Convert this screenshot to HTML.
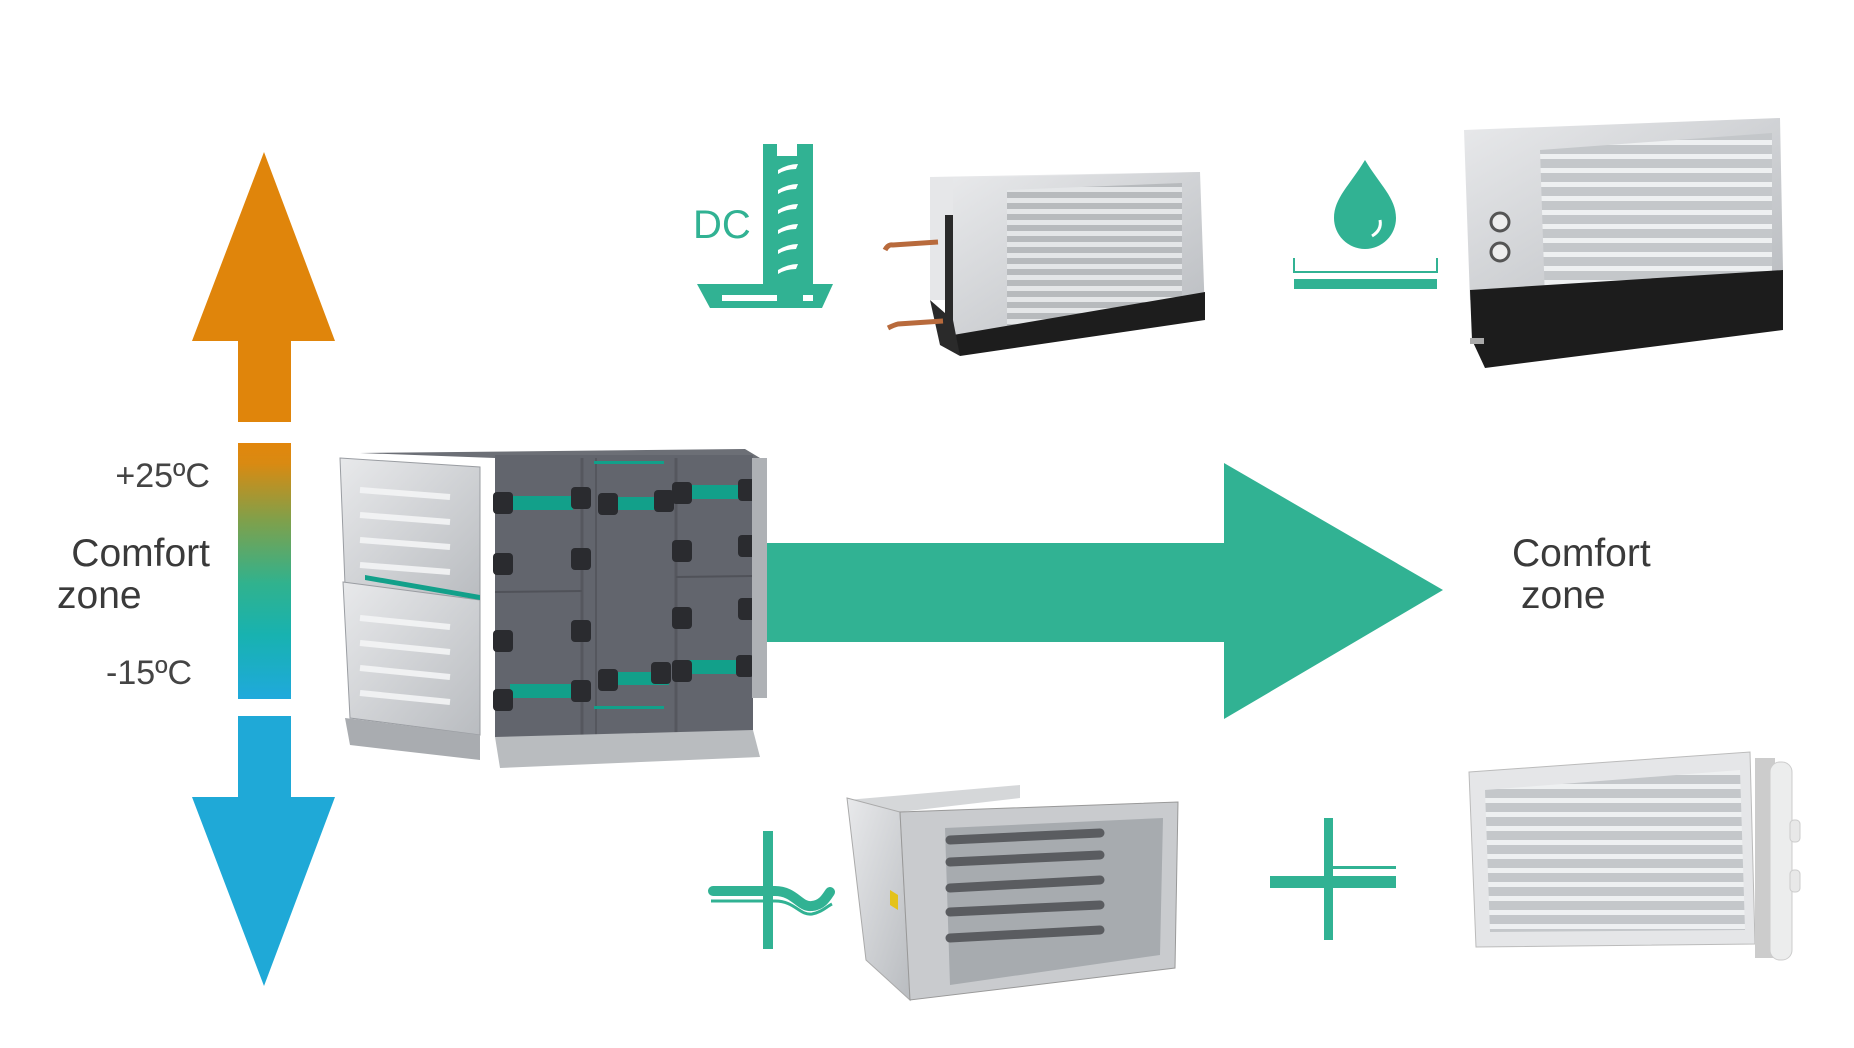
<!DOCTYPE html>
<html><head><meta charset="utf-8"><style>
html,body{margin:0;padding:0;background:#fff;}
svg{display:block}
text{font-family:"Liberation Sans",sans-serif;}
</style></head><body>
<svg width="1854" height="1048" viewBox="0 0 1854 1048" xmlns="http://www.w3.org/2000/svg">
<defs>
<linearGradient id="tg" x1="0" y1="0" x2="0" y2="1">
<stop offset="0" stop-color="#e2860c"/><stop offset="0.08" stop-color="#d98a12"/>
<stop offset="0.3" stop-color="#80a04a"/><stop offset="0.55" stop-color="#30b28e"/>
<stop offset="0.75" stop-color="#18b2b0"/><stop offset="1" stop-color="#1fa9dc"/></linearGradient>
<linearGradient id="met" x1="0" y1="0" x2="1" y2="1"><stop offset="0" stop-color="#e8e9eb"/><stop offset="1" stop-color="#b9bcc0"/></linearGradient>
<pattern id="fins" width="10" height="11" patternUnits="userSpaceOnUse"><rect width="10" height="11" fill="#b7babd"/><rect y="0" width="10" height="5" fill="#e4e6e8"/></pattern>
<pattern id="fins2" width="10" height="14" patternUnits="userSpaceOnUse"><rect width="10" height="14" fill="#c4c7ca"/><rect y="0" width="10" height="5" fill="#eef0f1"/></pattern>
</defs>

<!-- vertical temperature arrows -->
<polygon points="264,152 335,341 291,341 291,422 238,422 238,341 192,341" fill="#e0850b"/>
<rect x="238" y="443" width="53" height="256" fill="url(#tg)"/>
<polygon points="238,716 291,716 291,797 335,797 264,986 192,797 238,797" fill="#1fa9d7"/>

<text x="210" y="487" font-size="34" fill="#444" text-anchor="end" font-weight="300">+25ºC</text>
<text x="210" y="566" font-size="39" fill="#3a3a3a" text-anchor="end">Comfort</text>
<text x="57" y="608" font-size="39" fill="#3a3a3a">zone</text>
<text x="106" y="684" font-size="34" fill="#444">-15ºC</text>

<!-- big green arrow -->
<polygon points="760,543 1224,543 1224,463 1443,590 1224,719 1224,642 760,642" fill="#31b293"/>
<text x="1512" y="566" font-size="39" fill="#3a3a3a">Comfort</text>
<text x="1521" y="608" font-size="39" fill="#3a3a3a">zone</text>

<!-- AHU -->
<g>
<polygon points="360,453 745,449 760,458 495,458" fill="#6c6f76"/>
<rect x="495" y="455" width="258" height="282" fill="#62656d"/>
<line x1="582" y1="458" x2="582" y2="735" stroke="#55575e" stroke-width="3"/>
<line x1="596" y1="458" x2="596" y2="735" stroke="#55575e" stroke-width="2"/>
<line x1="676" y1="458" x2="676" y2="735" stroke="#55575e" stroke-width="3"/>
<line x1="495" y1="592" x2="582" y2="591" stroke="#505259" stroke-width="2"/>
<line x1="676" y1="577" x2="753" y2="576" stroke="#505259" stroke-width="2"/>
<polygon points="495,737 753,730 760,757 500,768" fill="#b9bcbf"/>
<polygon points="340,458 480,467 480,600 345,585" fill="url(#met)" stroke="#9a9da2"/>
<polygon points="343,582 480,600 480,735 350,718" fill="url(#met)" stroke="#9a9da2"/>
<g stroke="#f4f5f6" stroke-width="6" opacity="0.9">
<line x1="360" y1="490" x2="450" y2="497"/><line x1="360" y1="515" x2="450" y2="522"/><line x1="360" y1="540" x2="450" y2="547"/><line x1="360" y1="565" x2="450" y2="572"/>
<line x1="360" y1="618" x2="450" y2="627"/><line x1="360" y1="643" x2="450" y2="652"/><line x1="360" y1="668" x2="450" y2="677"/><line x1="360" y1="693" x2="450" y2="702"/></g>
<polygon points="345,718 480,735 480,760 350,745" fill="#a9acb0"/>
<g fill="#12a08a">
<rect x="508" y="496" width="65" height="14"/><rect x="607" y="497" width="62" height="13"/><rect x="685" y="485" width="60" height="14"/>
<rect x="510" y="684" width="65" height="14"/><rect x="607" y="672" width="62" height="13"/><rect x="686" y="660" width="60" height="14"/>
<rect x="594" y="461" width="70" height="3"/><rect x="594" y="706" width="70" height="3"/>
<polygon points="365,575 480,595 480,600 365,580"/></g>
<g fill="#2a2b2f">
<rect x="493" y="492" width="20" height="22" rx="4"/><rect x="571" y="487" width="20" height="22" rx="4"/><rect x="598" y="493" width="20" height="22" rx="4"/><rect x="654" y="490" width="20" height="22" rx="4"/><rect x="672" y="482" width="20" height="22" rx="4"/><rect x="738" y="479" width="18" height="22" rx="4"/>
<rect x="493" y="553" width="20" height="22" rx="4"/><rect x="571" y="548" width="20" height="22" rx="4"/><rect x="672" y="540" width="20" height="22" rx="4"/><rect x="738" y="535" width="18" height="22" rx="4"/>
<rect x="493" y="630" width="20" height="22" rx="4"/><rect x="571" y="620" width="20" height="22" rx="4"/><rect x="672" y="607" width="20" height="22" rx="4"/><rect x="738" y="598" width="18" height="22" rx="4"/>
<rect x="493" y="689" width="20" height="22" rx="4"/><rect x="571" y="680" width="20" height="22" rx="4"/><rect x="598" y="669" width="20" height="22" rx="4"/><rect x="651" y="662" width="20" height="22" rx="4"/><rect x="672" y="660" width="20" height="22" rx="4"/><rect x="736" y="655" width="18" height="22" rx="4"/></g>
<rect x="752" y="458" width="15" height="120" fill="#aeb1b5"/><rect x="752" y="578" width="15" height="120" fill="#aeb1b5"/>
</g>

<!-- DC icon -->
<text x="693" y="238" font-size="40" fill="#31b293">DC</text>
<rect x="763" y="144" width="50" height="140" fill="#31b293"/>
<g fill="#fff"><rect x="777" y="144" width="20" height="12"/>
<path d="M778,170 q10,-6 20,-6 l-2,5 q-10,0 -18,5z"/><path d="M778,190 q10,-6 20,-6 l-2,5 q-10,0 -18,5z"/><path d="M778,210 q10,-6 20,-6 l-2,5 q-10,0 -18,5z"/><path d="M778,230 q10,-6 20,-6 l-2,5 q-10,0 -18,5z"/><path d="M778,250 q10,-6 20,-6 l-2,5 q-10,0 -18,5z"/><path d="M778,270 q10,-6 20,-6 l-2,5 q-10,0 -18,5z"/></g>
<polygon points="697,284 833,284 822,308 710,308" fill="#31b293"/>
<rect x="722" y="295" width="55" height="6" fill="#fff"/><rect x="803" y="295" width="10" height="6" fill="#fff"/>

<!-- coil 1 -->
<g>
<polygon points="930,177 1200,172 1200,300 930,300" fill="#e6e7e9"/>
<polygon points="945,215 955,215 955,340 945,340" fill="#2a2a2a"/>
<polygon points="953,178 1200,172 1205,315 953,335" fill="url(#met)"/>
<polygon points="1007,190 1182,183 1182,322 1007,332" fill="url(#fins)"/>
<polygon points="953,335 1205,292 1205,320 960,356" fill="#1d1d1d"/>
<polygon points="930,300 953,320 960,356 940,345" fill="#2a2a2a"/>
<path d="M885,250 q3,-6 8,-5 l45,-3" stroke="#b86a3c" stroke-width="5" fill="none"/>
<path d="M888,328 q6,-3 10,-4 l45,-3" stroke="#b86a3c" stroke-width="5" fill="none"/>
</g>

<!-- drop icon -->
<path d="M1365,160 C1350,185 1334,198 1334,218 a31,31 0 0 0 62,0 C1396,198 1380,185 1365,160z" fill="#31b293"/>
<path d="M1380,220 q2,10 -8,16" stroke="#fff" stroke-width="3" fill="none"/>
<path d="M1294,258 v14 h143 v-14" stroke="#31b293" stroke-width="2" fill="none"/>
<rect x="1294" y="279" width="143" height="10" fill="#31b293"/>

<!-- coil 2 -->
<g>
<polygon points="1464,130 1780,118 1783,270 1470,300" fill="url(#met)"/>
<polygon points="1540,150 1772,133 1772,280 1545,300" fill="url(#fins2)"/>
<polygon points="1470,290 1783,270 1783,330 1485,368 1472,340" fill="#1c1c1c"/>
<circle cx="1500" cy="222" r="9" fill="#eee" stroke="#555" stroke-width="3"/>
<circle cx="1500" cy="252" r="9" fill="#eee" stroke="#555" stroke-width="3"/>
<rect x="1470" y="338" width="14" height="6" fill="#aaa"/>
</g>

<!-- electric icon -->
<rect x="763" y="831" width="10" height="118" fill="#31b293"/>
<path d="M713,891 L775,891 C795,891 800,908 812,906 C822,905 826,898 830,892" stroke="#31b293" stroke-width="10" stroke-linecap="round" fill="none"/>
<path d="M711,901 L775,901 C795,901 800,916 812,914 C822,912 826,907 832,904" stroke="#31b293" stroke-width="3" fill="none"/>

<!-- electric heater -->
<g>
<polygon points="847,800 1020,785 1020,798 900,812" fill="#d5d7d9"/>
<polygon points="847,798 900,812 910,1000 866,960" fill="url(#met)" stroke="#aaa"/>
<polygon points="900,812 1178,802 1175,968 910,1000" fill="#c9cbce" stroke="#999"/>
<polygon points="945,828 1163,818 1160,955 950,985" fill="#a7abaf"/>
<g stroke="#5a5c60" stroke-width="9" stroke-linecap="round">
<line x1="950" y1="840" x2="1100" y2="833"/><line x1="950" y1="862" x2="1100" y2="855"/><line x1="950" y1="888" x2="1100" y2="880"/><line x1="950" y1="912" x2="1100" y2="905"/><line x1="950" y1="938" x2="1100" y2="930"/></g>
<polygon points="890,890 898,895 898,910 890,905" fill="#e4c21a"/>
</g>

<!-- plus icon -->
<rect x="1324" y="818" width="9" height="122" fill="#31b293"/>
<rect x="1270" y="876" width="126" height="12" fill="#31b293"/>
<rect x="1333" y="866" width="63" height="3" fill="#31b293"/>

<!-- coil 3 -->
<g>
<polygon points="1469,772 1750,752 1755,944 1476,947" fill="#e5e6e8" stroke="#bbb"/>
<polygon points="1485,790 1740,770 1745,930 1490,932" fill="url(#fins2)"/>
<rect x="1755" y="758" width="20" height="200" fill="#ccc"/>
<rect x="1770" y="762" width="22" height="198" rx="10" fill="#eceded" stroke="#ccc"/>
<rect x="1790" y="820" width="10" height="22" rx="4" fill="#e8e8e8" stroke="#ccc"/>
<rect x="1790" y="870" width="10" height="22" rx="4" fill="#e8e8e8" stroke="#ccc"/>
</g>
</svg>
</body></html>
